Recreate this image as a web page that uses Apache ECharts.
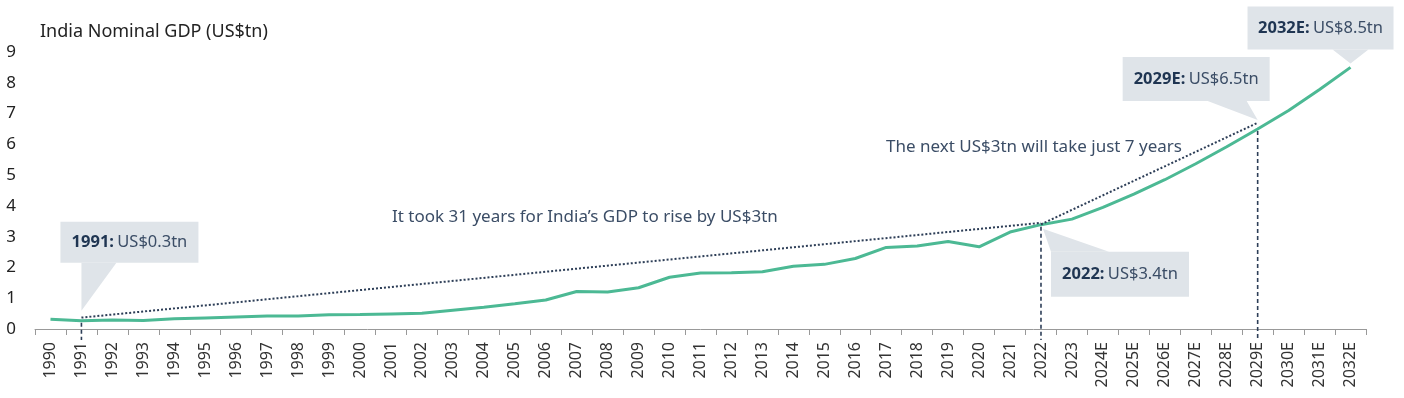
<!DOCTYPE html>
<html>
<head>
<meta charset="utf-8">
<script src="https://cdn.jsdelivr.net/npm/echarts@6/dist/echarts.min.js"></script>
<style>
html, body { margin: 0; padding: 0; background: #fff; }
#main { width: 1404px; height: 398px; }
</style>
</head>
<body>
<div id="main"></div>
<script>
var years = ['1990', '1991', '1992', '1993', '1994', '1995', '1996', '1997', '1998', '1999',
    '2000', '2001', '2002', '2003', '2004', '2005', '2006', '2007', '2008', '2009',
    '2010', '2011', '2012', '2013', '2014', '2015', '2016', '2017', '2018', '2019',
    '2020', '2021', '2022', '2023', '2024E', '2025E', '2026E', '2027E', '2028E', '2029E',
    '2030E', '2031E', '2032E']

var gdp = [0.32, 0.27, 0.29, 0.28, 0.33, 0.36, 0.39, 0.42, 0.42, 0.46,
    0.47, 0.49, 0.51, 0.61, 0.71, 0.82, 0.94, 1.22, 1.20, 1.34,
    1.68, 1.82, 1.83, 1.86, 2.04, 2.10, 2.29, 2.65, 2.70, 2.84,
    2.67, 3.15, 3.39, 3.57, 3.95, 4.38, 4.85, 5.37, 5.92, 6.50,
    7.10, 7.78, 8.50]

var yTicks = [0, 1, 2, 3, 4, 5, 6, 7, 8, 9]

// callouts: year, bold label, value text
var callYears = ['1991', '2022', '2029E', '2032E']
var callLabels = ['1991:', '2022:', '2029E:', '2032E:']
var callValues = ['US$0.3tn', 'US$3.4tn', 'US$6.5tn', 'US$8.5tn']

// dotted arrows: [from year, from value, to year, to value]
var arrowFrom = [['1991', 0.37], ['2022', 3.40]]
var arrowTo = [['2022', 3.45], ['2029E', 6.70]]

var notes = ['It took 31 years for India\u2019s GDP to rise by US$3tn', 'The next US$3tn will take just 7 years']

var FONT = 'Noto Sans'
var NAVY = '#1f3552'
var TXT = '#3b4d66'
var BOX = '#dfe4e9'

var myChart = echarts.init(document.getElementById('main'))

var option = {
    animation: false,
    textStyle: { fontFamily: FONT },
    title: {
        text: 'India Nominal GDP (US$tn)',
        left: 35,
        top: 18,
        textStyle: { fontFamily: FONT, fontSize: 18, fontWeight: 'normal', color: '#222' }
    },
    grid: {
        left: 35,
        right: 38,
        top: 52,
        bottom: 69,
        containLabel: false,
        outerBoundsMode: 'none'
    },
    xAxis: {
        type: 'category',
        data: years,
        boundaryGap: true,
        axisLine: { lineStyle: { color: '#999', width: 1 } },
        axisTick: { show: true, interval: 0, length: 6, lineStyle: { color: '#999' } },
        axisLabel: {
            interval: 0,
            rotate: 90,
            margin: 13,
            fontFamily: FONT,
            fontSize: 16,
            color: '#333'
        }
    },
    yAxis: {
        type: 'value',
        min: yTicks[0],
        max: yTicks[yTicks.length - 1],
        interval: 1,
        axisLine: { show: false },
        axisTick: { show: false },
        splitLine: { show: false },
        axisLabel: { margin: 19, fontFamily: FONT, fontSize: 17, color: '#222' }
    },
    series: [{
        name: 'India Nominal GDP',
        type: 'line',
        data: gdp,
        showSymbol: false,
        z: 3,
        lineStyle: { color: '#4cb994', width: 3 },
        itemStyle: { color: '#4cb994' },
        markLine: {
            silent: true,
            z: 6,
            symbol: ['none', 'arrow'],
            symbolSize: [0, 11],
            label: { show: false },
            lineStyle: { type: [2, 2], color: '#2d3e57', width: 2 },
            data: arrowFrom.map(function (f, i) {
                return [
                    { coord: [years.indexOf(f[0]), f[1]] },
                    { coord: [years.indexOf(arrowTo[i][0]), arrowTo[i][1]] }
                ]
            })
        }
    }]
}
myChart.setOption(option)

// callout geometry relative to the data point (box dx0, dx1, dy0, dy1, pointer triangle)
var shapes = [
    { box: [-21, 117, -99, -58], tri: [[0, -58], [35, -58], [0, -10]] },
    { box: [10, 148, 27, 72], tri: [[2, 4], [10, 27], [68, 27]] },
    { box: [-135, 12, -72, -28], tri: [[-50, -28], [-11, -28], [0, -9]] },
    { box: [-103, 43, -61, -18], tri: [[-18, -18], [18, -18], [0, -4]] }
]

var graphics = []
var axisY = myChart.convertToPixel({ yAxisIndex: 0 }, 0)

callYears.forEach(function (yr, i) {
    var idx = years.indexOf(yr)
    var p = myChart.convertToPixel({ xAxisIndex: 0, yAxisIndex: 0 }, [idx, gdp[idx]])
    var s = shapes[i]
    graphics.push({
        type: 'rect', z: 1, silent: true,
        shape: { x: p[0] + s.box[0], y: p[1] + s.box[2], width: s.box[1] - s.box[0], height: s.box[3] - s.box[2] },
        style: { fill: BOX }
    })
    graphics.push({
        type: 'polygon', z: 1, silent: true,
        shape: { points: s.tri.map(function (d) { return [p[0] + d[0], p[1] + d[1]] }) },
        style: { fill: BOX }
    })
    graphics.push({
        type: 'text', z: 5, silent: true,
        x: p[0] + (s.box[0] + s.box[1]) / 2,
        y: p[1] + (s.box[2] + s.box[3]) / 2,
        style: {
            text: '{b|' + callLabels[i] + '} {r|' + callValues[i] + '}',
            align: 'center',
            verticalAlign: 'middle',
            rich: {
                b: { fontFamily: FONT, fontSize: 16.5, fontWeight: 'bold', fill: NAVY },
                r: { fontFamily: FONT, fontSize: 16.5, fill: TXT }
            }
        }
    })
    if (yr !== '2032E') {
        graphics.push({
            type: 'line', z: 4, silent: true,
            shape: { x1: p[0], y1: p[1] + 2, x2: p[0], y2: axisY + 11 },
            style: { stroke: '#2d3e57', lineWidth: 1.6, lineDash: [4, 3] }
        })
    }
})

graphics.push({
    type: 'text', silent: true, x: 392, y: 217,
    style: { text: notes[0], fontFamily: FONT, fontSize: 17, fill: TXT, verticalAlign: 'middle' }
})
graphics.push({
    type: 'text', silent: true, x: 886, y: 147,
    style: { text: notes[1], fontFamily: FONT, fontSize: 17, fill: TXT, verticalAlign: 'middle' }
})

myChart.setOption({ graphic: graphics })
</script>
</body>
</html>
